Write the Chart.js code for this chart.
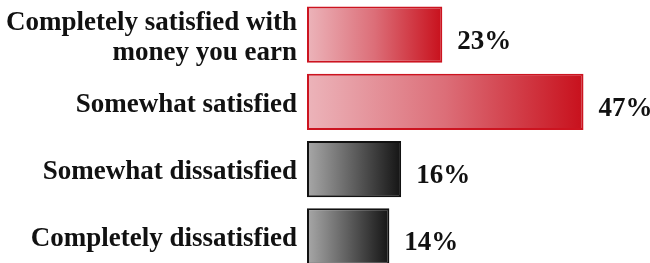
<!DOCTYPE html>
<html>
<head>
<meta charset="utf-8">
<script src="https://cdn.jsdelivr.net/npm/chart.js@4/dist/chart.umd.min.js"></script>
<style>
  html, body { margin: 0; padding: 0; background: #fff; overflow: hidden; }
  #wrap { width: 650px; height: 270px; }
</style>
</head>
<body>
<div id="wrap"><canvas id="satCanvas"></canvas></div>
<script>
// categories and values (percent)
const categories = [
    ["Completely satisfied with", "money you earn"],
    "Somewhat satisfied",
    "Somewhat dissatisfied",
    "Completely dissatisfied"
];
const values = [23, 47, 16, 14];
const isSatisfied = [true, true, false, false];

const serif = "'Liberation Serif', 'Times New Roman', serif";

// left-to-right gradient over each bar
function barFill(ctx) {
    const chart = ctx.chart;
    const xs = chart.scales.x;
    const solid = isSatisfied[ctx.dataIndex] ? "#dc6e78" : "#5e5e5e";
    if (!xs || !chart.chartArea || ctx.dataIndex === undefined) return solid;
    const x0 = xs.getPixelForValue(0);
    const x1 = xs.getPixelForValue(values[ctx.dataIndex]);
    if (!isFinite(x0) || !isFinite(x1)) return solid;
    const g = chart.ctx.createLinearGradient(x0, 0, x1, 0);
    if (isSatisfied[ctx.dataIndex]) {
        g.addColorStop(0, "#ecb4ba");
        g.addColorStop(0.5, "#dc6e78");
        g.addColorStop(1, "#c8101c");
    } else {
        g.addColorStop(0, "#a8a8a8");
        g.addColorStop(0.5, "#5e5e5e");
        g.addColorStop(1, "#141414");
    }
    return g;
}

// percent labels to the right of each bar
const valueLabels = {
    id: "valueLabels",
    afterDatasetsDraw(chart) {
        const c = chart.ctx;
        const meta = chart.getDatasetMeta(0);
        c.save();
        c.font = "bold 27px " + serif;
        c.fillStyle = "#111";
        c.textAlign = "left";
        c.textBaseline = "middle";
        meta.data.forEach((bar, i) => {
            c.fillText(values[i] + "%", bar.x + 15, bar.y + 7);
        });
        c.restore();
    }
};

const satChart = new Chart(document.getElementById("satCanvas"), {
    type: "bar",
    data: {
        labels: categories,
        datasets: [{
            data: values,
            backgroundColor: barFill,
            borderColor: isSatisfied.map(s => s ? "#cc1420" : "#111"),
            borderWidth: 2,
            borderSkipped: false,
            barPercentage: 0.84,
            categoryPercentage: 1
        }]
    },
    options: {
        indexAxis: "y",
        responsive: true,
        maintainAspectRatio: false,
        animation: false,
        layout: { padding: { top: 1, left: 0, right: 0, bottom: 0 } },
        plugins: {
            legend: { display: false },
            tooltip: { enabled: false }
        },
        scales: {
            x: {
                display: false,
                min: 0,
                max: 58.3
            },
            y: {
                grid: { display: false, drawTicks: false },
                border: { display: false },
                ticks: {
                    color: "#111",
                    padding: 10,
                    labelOffset: 3,
                    font: { family: serif, size: 27, weight: "bold", lineHeight: 1.11 }
                },
                afterFit(scale) {
                    scale.width = 307;
                    scale.paddingTop = 0;
                    scale.paddingBottom = 0;
                }
            }
        }
    },
    plugins: [valueLabels]
});
</script>
</body>
</html>
